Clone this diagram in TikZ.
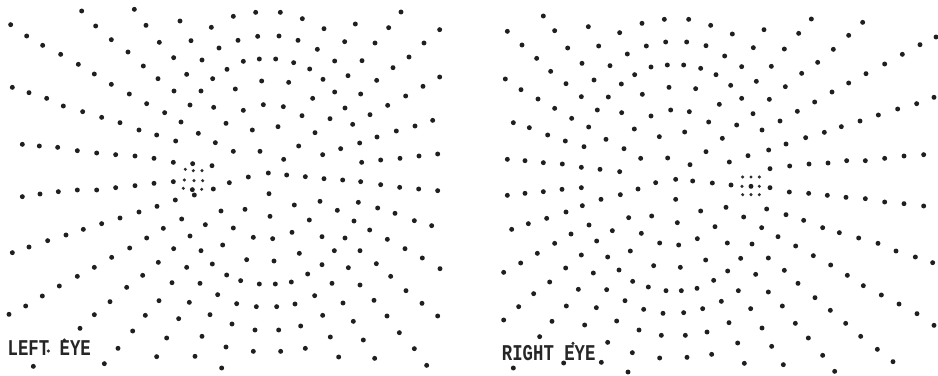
\documentclass[tikz,border=0pt]{standalone}
\usepackage{fontspec}
\setmonofont{Liberation Mono}
\begin{document}
\begin{tikzpicture}[x=0.25pt,y=-0.25pt,
  dotc/.style={fill=black!88},
  gridc/.style={fill=black!82},
  lbl/.style={inner sep=0pt,anchor=base west,font=\ttfamily\fontsize{13}{13}\selectfont,text=black!85}]
\fill[white] (0,0) rectangle (2814,1125);
\useasboundingbox (0,0) rectangle (2814,1125);
% ---------------- LEFT EYE ----------------
\begin{scope}
\foreach \x/\y in {245/33,403/28,32/74,287/78,438/76,540/63,634/82,700/49,767/37,841/37,907/56,972/86,1066/72,1166/83,1203/36,1319/89,
80/108,128/136,334/119,478/127,573/122,657/144,714/121,773/109,837/108,894/121,952/148,1034/125,1125/129,1272/129,
182/163,384/156,521/173,606/180,730/184,778/177,827/177,881/188,929/207,1004/183,1086/182,1227/171,1179/203,235/193,430/198,681/208,
283/222,474/236,560/223,638/236,785/243,866/247,969/238,1044/227,1130/241,1269/259,1319/231,37/262,334/253,
87/278,140/295,388/282,522/273,603/273,706/267,1004/276,1082/282,1217/288,938/295,
190/318,248/335,440/311,494/338,570/315,641/322,730/331,790/314,850/320,1035/324,1163/316,305/352,906/347,990/356,1110/344,
360/368,417/390,543/366,678/370,757/390,834/380,1058/373,1245/378,1298/361,1189/393,945/398,
470/405,527/423,595/400,646/428,67/433,118/438,173/442,232/452,290/459,347/464,405/468,462/475,520/487,700/454,780/454,896/438,1022/446,1079/429,1131/411,968/464,851/478,1085/487,1142/480,1200/475,1257/468,1313/462,
578/491,636/497,
688/548,745/531,805/519,860/525,916/530,972/536,1028/540,1082/545,1142/554,1199/562,1256/567,1313/572,
67/590,120/582,175/575,232/570,290/570,347/563,405/557,462/550,520/545,640/567,583/585,577/569,
807/581,526/600,471/619,
417/636,360/654,305/671,250/688,198/705,143/722,87/741,37/758,
545/657,616/674,663/633,735/628,810/649,883/615,960/604,1012/631,1075/607,1133/624,1185/640,1243/662,1295/677,928/660,1062/663,
490/685,570/708,700/684,760/712,818/716,876/697,966/710,1035/714,1109/690,1162/718,1215/746,
440/714,389/744,521/746,603/752,668/735,898/760,1003/752,1080/752,1267/774,335/772,283/802,232/829,475/787,560/802,637/792,740/779,822/783,966/794,1045/803,1129/791,1320/806,
178/858,127/888,77/918,27/943,380/862,428/826,516/848,600/850,680/825,722/842,778/852,826/852,874/846,923/822,996/850,1080/855,1172/829,1218/872,1266/910,653/884,944/887,330/905,477/902,568/907,710/911,769/920,830/920,885/912,1029/909,1122/901,
283/944,436/946,536/956,630/944,696/972,765/990,836/990,902/978,968/946,1060/964,1161/948,1313/948,240/985,398/993,500/1014,606/1009,991/1011,1090/1020,1198/998,
354/1045,470/1070,585/1069,678/1041,760/1054,842/1054,916/1045,1016/1071,1124/1075,1243/1046,1280/1096,100/1099,313/1091,665/1104}
  \fill[dotc] (\x,\y) circle[radius=1.85pt];
\foreach \x/\y in {556/508,580/512,606/512,553/540,582/542,608/542,550/565,605/568,145/1053,193/1020}
  \fill[gridc] (\x,\y) circle[radius=1.3pt];
\node[lbl] (lefteye) at (22,1066) {\scalebox{1}[1.3]{\bfseries LEFT EYE}};
\end{scope}
% ---------------- RIGHT EYE ----------------
\begin{scope}[shift={(1410,0)}]
\foreach \x/\y in {220/48,112/94,254/92,355/80,449/98,516/70,583/58,656/58,722/76,787/102,882/89,986/100,1024/57,1136/106,1178/67,1398/111,
156/135,293/144,386/138,472/162,529/138,587/126,650/126,708/137,764/168,850/143,943/147,1090/148,1297/163,1350/134,
200/175,336/190,420/197,543/201,592/195,641/195,692/205,738/224,815/200,904/199,1043/187,1244/192,
242/214,106/237,288/251,372/240,454/252,494/224,597/262,677/266,782/256,859/244,946/260,995/220,1136/249,1188/221,
153/269,204/297,334/290,415/291,517/283,815/295,898/298,1034/306,1086/276,1392/292,1340/311,
254/325,305/355,382/330,455/338,543/348,602/330,658/335,748/313,849/341,982/334,1170/363,1225/345,1283/327,
130/368,178/383,233/405,286/423,356/381,408/418,493/387,568/410,644/396,716/366,800/375,876/390,930/363,1114/380,1063/397,1007/413,948/432,757/415,
342/440,462/446,708/455,834/467,896/450,778/486,900/506,959/498,1017/492,1074/489,1130/482,1186/482,1244/475,1302/468,1361/464,
112/478,165/482,220/488,277/492,334/502,390/508,449/515,512/475,593/474,660/494,
843/559,
557/548,617/538,668/543,727/549,783/555,900/563,958/576,1016/580,1072/586,1128/592,1186/596,1244/606,1302/611,1361/618,
112/586,165/580,220/575,276/568,334/563,393/598,451/584,504/567,617/598,
337/617,288/636,230/655,175/671,125/688,357/675,303/702,254/730,380/723,427/692,476/653,545/648,514/700,622/668,569/729,626/735,682/716,692/633,735/680,768/622,772/729,821/651,846/732,875/683,890/627,924/710,948/644,977/738,1001/661,1058/683,1108/698,1166/714,1224/730,1278/753,202/760,481/753,
334/765,413/771,152/789,101/817,287/804,370/819,447/810,551/797,631/802,707/780,812/775,895/774,1030/767,1082/795,1132/826,1180/857,1234/885,1287/912,1341/941,1392/976,1336/771,1388/788,773/813,857/823,943/811,984/850,1035/893,1081/931,1127/970,1172/1009,1222/1048,1269/1085,
239/846,488/844,535/861,588/872,634/872,681/865,731/841,805/872,895/876,191/881,325/868,410/869,465/902,754/904,
146/920,289/918,379/923,521/928,579/940,641/938,698/926,842/926,937/918,
101/960,246/964,344/975,440/963,507/990,574/1006,646/1006,711/996,777/968,876/984,976/970,1015/1014,
209/1010,413/1027,487/1058,569/1074,651/1072,725/1063,803/1029,905/1039,1058/1066,823/1090,940/1094,1094/1114,474/1116,130/1104,281/1089,394/1087}
  \fill[dotc] (\x,\y) circle[radius=1.85pt];
\foreach \x/\y in {818/531,843/531,868/531,816/559,868/559,818/584,843/584,868/584,309/1030}
  \fill[gridc] (\x,\y) circle[radius=1.3pt];
\node[lbl] (righteye) at (95,1080) {\scalebox{1}[1.3]{\bfseries RIGHT EYE}};
\end{scope}
\end{tikzpicture}
\end{document}
